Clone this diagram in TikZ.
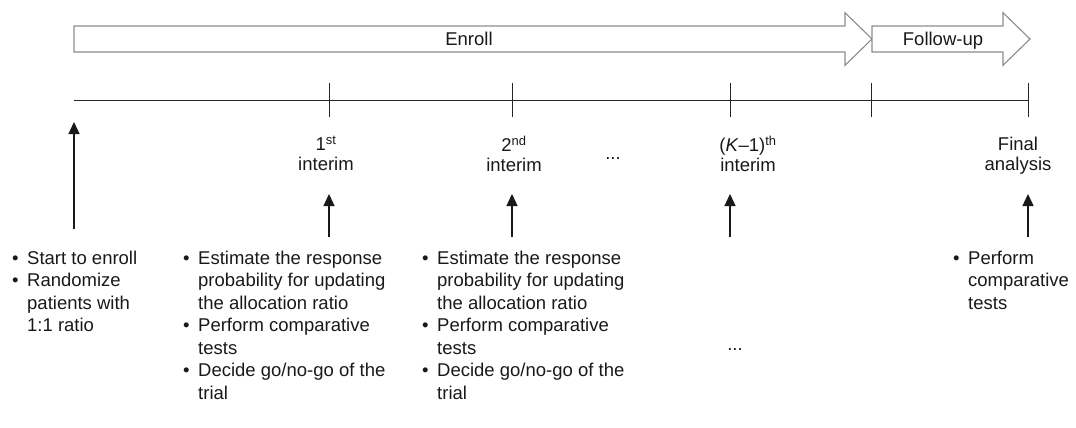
\documentclass[tikz,border=0pt]{standalone}
\usepackage{fontspec}
\setmainfont{Liberation Sans}
\usetikzlibrary{arrows.meta}
\newcommand{\blt}{\makebox[15pt][l]{\textbullet}}

\begin{document}
\begin{tikzpicture}[x=1pt,y=-1pt]
\tikzstyle{phase}=[draw=black!45, line width=1.1pt, fill=white]
\tikzstyle{phasetext}=[font=\fontsize{18.5}{22}\selectfont, text=black!90, anchor=base, inner sep=0pt]
\tikzstyle{lab}=[font=\fontsize{18.5}{19.5}\selectfont, align=center, anchor=north, inner sep=0pt, text=black!90]
\tikzstyle{list}=[font=\fontsize{18.5}{22.5}\selectfont, anchor=north west, inner sep=0pt, text=black!90]
\tikzstyle{dots}=[font=\fontsize{18.5}{22}\selectfont, anchor=base, inner sep=0pt, text=black!90]
\tikzstyle{axis}=[line width=1pt, black!85]
\tikzstyle{connect}=[-{Triangle[length=12pt,width=11pt]}, line width=1.3pt, black!90]

	\useasboundingbox (0,0) rectangle (1076,428);

	% enroll / follow-up
	\draw[phase] (74,26) -- (845,26) -- (845,12.7) -- (872,39) -- (845,65.3) -- (845,52) -- (74,52) -- cycle;
	\draw[phase] (872,26) -- (1003,26) -- (1003,12.7) -- (1030,39) -- (1003,65.3) -- (1003,52) -- (872,52) -- cycle;
	\node[phasetext] (enroll) at (469,45.5) {Enroll};
	\node[phasetext] (follow) at (943,45.5) {Follow-up};

	% time line
	\draw[axis] (74,100) -- (1028,100);
	\draw[axis] (329,83) -- (329,117);
	\draw[axis] (512,83) -- (512,117);
	\draw[axis] (730,83) -- (730,117);
	\draw[axis] (871,83) -- (871,117);
	\draw[axis] (1028,83) -- (1028,117);

	\node[lab] (lab1) at (326,136) {1\textsuperscript{st}\\interim};
	\node[lab] (lab2) at (514,136) {2\textsuperscript{nd}\\interim};
	\node[dots] (dots1) at (613,159) {...};
	\node[lab] (labk) at (748,136) {(\textit{K}–1)\textsuperscript{th}\\interim};
	\node[lab] (labf) at (1018,137) {Final\\analysis};

	% arrows
	\coordinate (s0) at (74,229);   \coordinate (e0) at (74,122);
	\coordinate (s1) at (329,237);  \coordinate (e1) at (329,194);
	\coordinate (s2) at (512,237);  \coordinate (e2) at (512,194);
	\coordinate (sk) at (730,237);  \coordinate (ek) at (730,194);
	\coordinate (sf) at (1028,237); \coordinate (ef) at (1028,194);

	\path
		(s0) edge [connect] (e0)
		(s1) edge [connect] (e1)
		(s2) edge [connect] (e2)
		(sk) edge [connect] (ek)
		(sf) edge [connect] (ef);

	% what is done at each look
	\node[list] (do0) at (12,248.5) {\begin{tabular}[t]{@{}l@{}l@{}}
		\blt & Start to enroll\\
		\blt & Randomize\\
		     & patients with\\
		     & 1:1 ratio
	\end{tabular}};
	\node[list] (do1) at (183,248.5) {\begin{tabular}[t]{@{}l@{}l@{}}
		\blt & Estimate the response\\
		     & probability for updating\\
		     & the allocation ratio\\
		\blt & Perform comparative\\
		     & tests\\
		\blt & Decide go/no-go of the\\
		     & trial
	\end{tabular}};
	\node[list] (do2) at (422,248.5) {\begin{tabular}[t]{@{}l@{}l@{}}
		\blt & Estimate the response\\
		     & probability for updating\\
		     & the allocation ratio\\
		\blt & Perform comparative\\
		     & tests\\
		\blt & Decide go/no-go of the\\
		     & trial
	\end{tabular}};
	\node[dots] (dots2) at (735,350) {...};
	\node[list] (dof) at (953,248.5) {\begin{tabular}[t]{@{}l@{}l@{}}
		\blt & Perform\\
		     & comparative\\
		     & tests
	\end{tabular}};

\end{tikzpicture}
\end{document}
